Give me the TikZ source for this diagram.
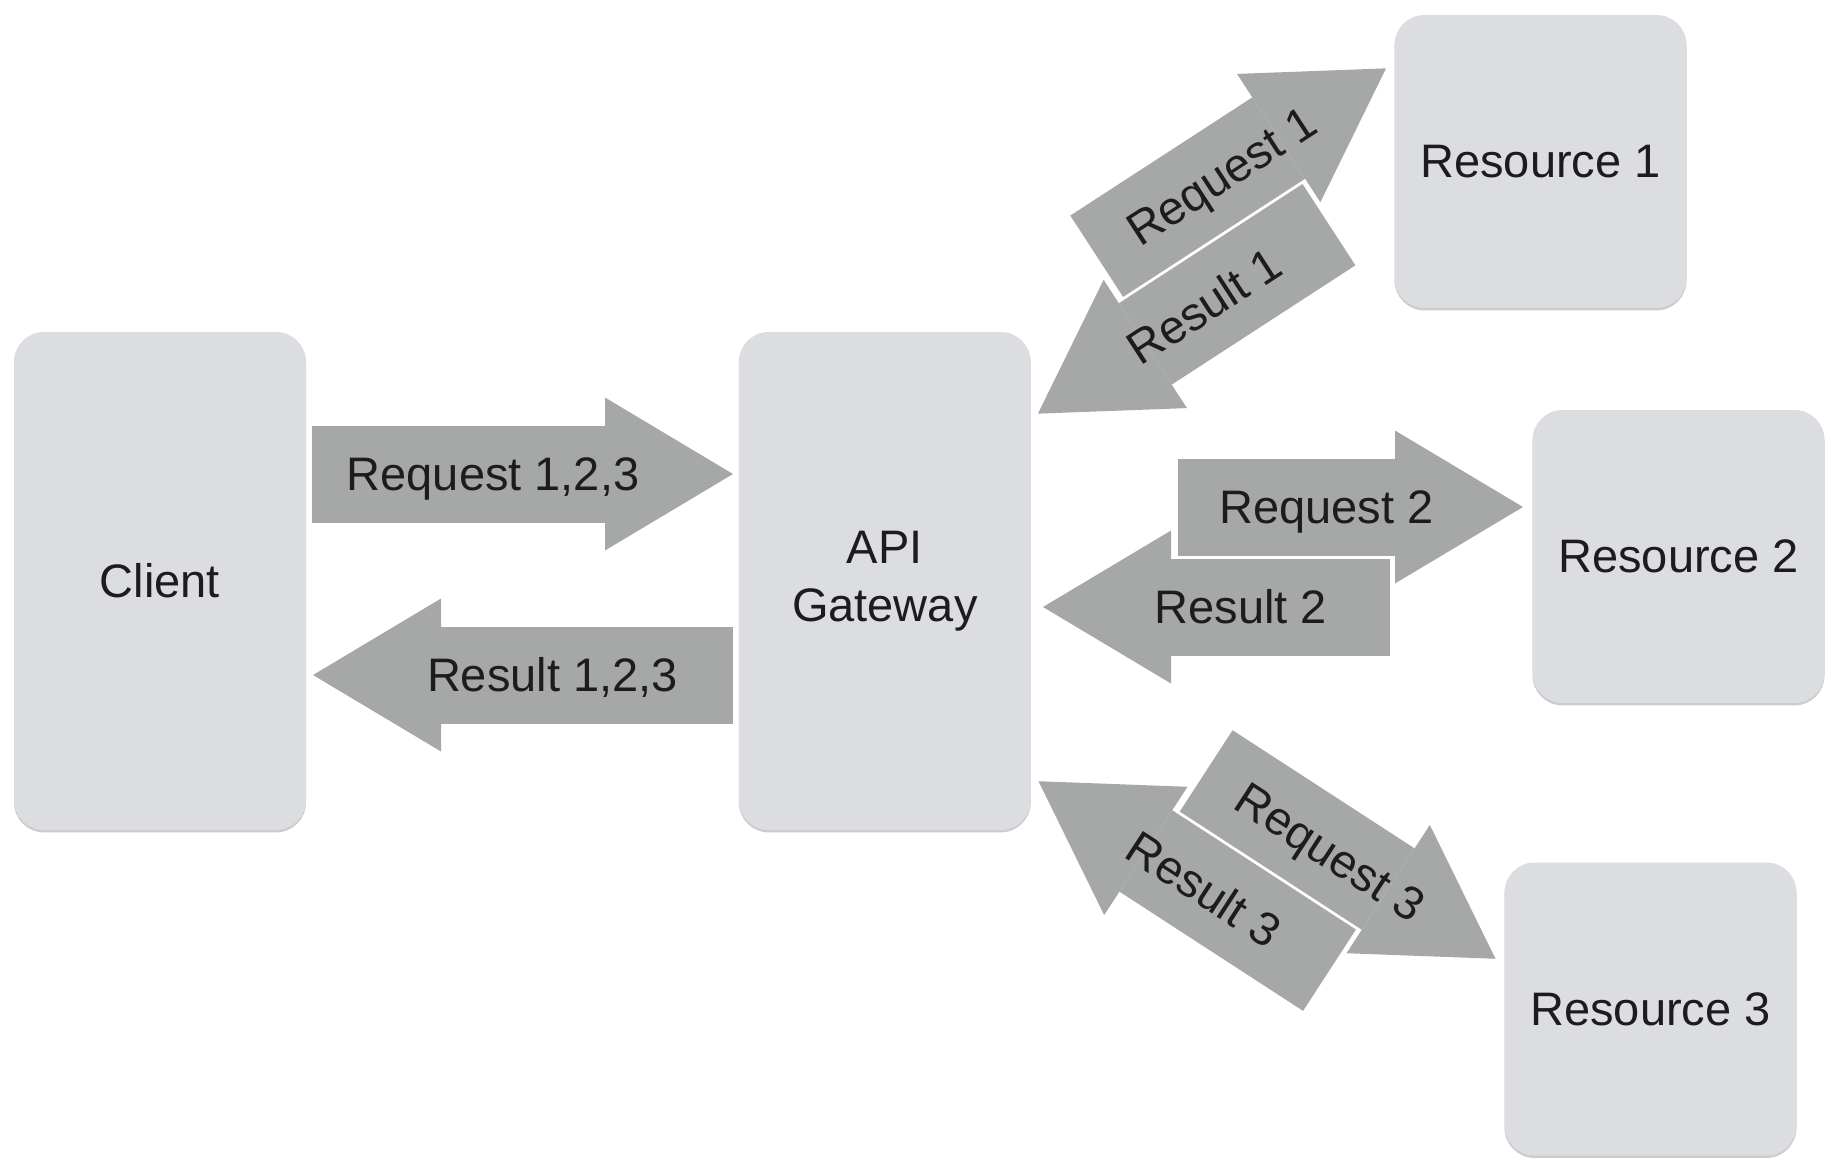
\documentclass[tikz,border=0pt]{standalone}
\usepackage{fontspec}
\setmainfont{Liberation Sans}
\usetikzlibrary{positioning,arrows.meta,shadows}
\definecolor{boxgray}{RGB}{220,221,224}
\definecolor{arrowgray}{RGB}{165,168,167}
\definecolor{textgray}{RGB}{28,28,28}
\tikzset{
  box/.style={rectangle, rounded corners=15pt, fill=boxgray, text=textgray,
    minimum width=146pt, minimum height=146.5pt, align=center,
    drop shadow={shadow xshift=0pt, shadow yshift=-1.2pt, opacity=0.2, fill=black}},
  tallbox/.style={box, minimum height=249pt},
  fat/.style={arrowgray, line width=48.5pt,
    -{Triangle[length=64pt, width=76.5pt, line width=0pt]}},
  arrowlabel/.style={sloped, pos=0.43, text=textgray, text height=16.8pt, text depth=0pt}
}
\begin{document}
\begin{tikzpicture}[x=0.5pt, y=-0.5pt, font=\fontsize{23.5}{29}\selectfont]
    \useasboundingbox (0,0) rectangle (1838,1168);

    \node (client) [tallbox] at (160,581) {Client};
    \node (gateway) [tallbox, right=216pt of client] {API\\Gateway};
    \node (res1) [box] at (1540.5,161.5) {Resource 1};
    \node (res2) [box] at (1678.5,556.5) {Resource 2};
    \node (res3) [box] at (1650.5,1009) {Resource 3};

    % client <-> gateway
    \coordinate (reqall a) at (312,474);
    \coordinate (reqall b) at (733,474);
    \coordinate (rslall a) at (733,675);
    \coordinate (rslall b) at (313,675);
    \draw [fat] (reqall a) -- node[arrowlabel] {Request 1,2,3} (reqall b);
    \draw [fat] (rslall a) -- node[arrowlabel] {Result 1,2,3} (rslall b);

    % gateway <-> resources, one turned pair each
    \foreach \n/\cx/\cy/\ang in {1/1212/241/33, 2/1283/557/0, 3/1267/870/-33} {
        \begin{scope}[shift={(\cx,\cy)}, rotate=\ang]
            \coordinate (req\n a) at (-105,-50);
            \coordinate (req\n b) at (240,-50);
            \coordinate (rsl\n a) at (107,50);
            \coordinate (rsl\n b) at (-240,50);
        \end{scope}
    }
    \foreach \n in {1,2,3} {
        \draw [fat] (req\n a) -- node[arrowlabel] {Request \n} (req\n b);
        \draw [fat] (rsl\n a) -- node[arrowlabel] {Result \n} (rsl\n b);
    }
\end{tikzpicture}
\end{document}
